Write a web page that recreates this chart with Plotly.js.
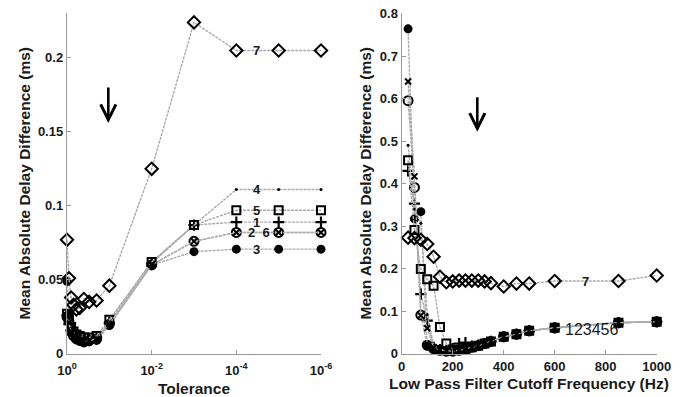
<!DOCTYPE html>
<html><head><meta charset="utf-8">
<script src="https://cdn.plot.ly/plotly-3.0.1.min.js"></script>
<style>html,body{margin:0;padding:0;background:#fff}#c{width:683px;height:397px}</style>
</head><body><div id="c"></div>
<script>
// ---------- Left panel: Tolerance ----------
const tolerance = [1, 0.9, 0.8, 0.7, 0.6, 0.5, 0.4, 0.3, 0.2, 0.1, 1e-2, 1e-3, 1e-4, 1e-5, 1e-6];
const tol1 = [0.026, 0.020, 0.016, 0.014, 0.012, 0.011, 0.010, 0.010, 0.011, 0.021, 0.061, 0.087, 0.089, 0.089, 0.089];
const tol2 = [0.025, 0.022, 0.015, 0.012, 0.010, 0.009, 0.008, 0.009, 0.010, 0.020, 0.060, 0.076, 0.082, 0.082, 0.082];
const tol3 = [0.049, 0.027, 0.018, 0.014, 0.011, 0.009, 0.008, 0.008, 0.009, 0.019, 0.060, 0.069, 0.0707, 0.0707, 0.0707];
const tol4 = [0.024, 0.019, 0.015, 0.013, 0.011, 0.010, 0.009, 0.009, 0.010, 0.022, 0.062, 0.087, 0.111, 0.111, 0.111];
const tol5 = [0.027, 0.024, 0.018, 0.015, 0.013, 0.012, 0.011, 0.011, 0.012, 0.023, 0.062, 0.087, 0.097, 0.097, 0.097];
const tol6 = [0.025, 0.021, 0.015, 0.012, 0.010, 0.009, 0.008, 0.009, 0.010, 0.020, 0.060, 0.076, 0.082, 0.082, 0.082];
const tol7 = [0.077, 0.051, 0.038, 0.033, 0.030, 0.031, 0.037, 0.035, 0.036, 0.046, 0.125, 0.224, 0.205, 0.205, 0.205];
const tolTickVals = [1, 1e-2, 1e-4, 1e-6];
const tolTickText = ['10<sup>0</sup>', '10<sup>-2</sup>', '10<sup>-4</sup>', '10<sup>-6</sup>'];

// ---------- Right panel: Cutoff frequency ----------
const freq = [25, 50, 75, 100, 125, 150, 175, 200, 225, 250, 275, 300, 325, 350, 400, 450, 500, 600, 850, 1000];
const frq1 = [0.430, 0.353, 0.140, 0.078, 0.015, 0.010, 0.008, 0.012, 0.024, 0.026, 0.018, 0.020, 0.024, 0.029, 0.040, 0.046, 0.054, 0.061, 0.073, 0.075];
const frq2 = [0.595, 0.391, 0.091, 0.020, 0.012, 0.008, 0.006, 0.006, 0.008, 0.011, 0.015, 0.019, 0.024, 0.029, 0.040, 0.046, 0.054, 0.061, 0.073, 0.075];
const frq3 = [0.764, 0.317, 0.334, 0.018, 0.010, 0.007, 0.006, 0.006, 0.008, 0.011, 0.015, 0.019, 0.024, 0.029, 0.040, 0.046, 0.054, 0.061, 0.073, 0.075];
const frq4 = [0.490, 0.340, 0.307, 0.092, 0.020, 0.010, 0.007, 0.006, 0.008, 0.011, 0.015, 0.019, 0.024, 0.029, 0.040, 0.046, 0.054, 0.061, 0.073, 0.075];
const frq5 = [0.455, 0.291, 0.199, 0.175, 0.160, 0.063, 0.024, 0.010, 0.009, 0.011, 0.015, 0.019, 0.024, 0.029, 0.040, 0.046, 0.054, 0.061, 0.073, 0.075];
const frq6 = [0.640, 0.417, 0.090, 0.060, 0.014, 0.009, 0.007, 0.006, 0.008, 0.011, 0.015, 0.019, 0.024, 0.029, 0.040, 0.046, 0.054, 0.061, 0.073, 0.075];
const frq7 = [0.273, 0.272, 0.268, 0.258, 0.228, 0.181, 0.168, 0.170, 0.172, 0.172, 0.172, 0.172, 0.170, 0.166, 0.158, 0.165, 0.165, 0.171, 0.171, 0.184];

const seriesNames = ['1', '2', '3', '4', '5', '6', '7'];
const yTitle = 'Mean Absolute Delay Difference (ms)';
const xTitleLeft = 'Tolerance';
const xTitleRight = 'Low Pass Filter Cutoff Frequency (Hz)';

// ---------- styles ----------
const lineStyle = {color: '#ababab', width: 1.4, dash: '3px,1px'};
const markerStyles = [
  {symbol: 'cross-thin-open', size: 8, color: '#000', line: {color: '#000', width: 2.2}},
  {symbol: 'circle-open', size: 9, color: '#000', line: {color: '#000', width: 2}},
  {symbol: 'circle', size: 9, color: '#000', line: {color: '#000', width: 0}},
  {symbol: 'circle', size: 3, color: '#000', line: {color: '#000', width: 0}},
  {symbol: 'square-open', size: 8, color: '#000', line: {color: '#000', width: 2}},
  {symbol: 'x-thin-open', size: 6, color: '#000', line: {color: '#000', width: 2}},
  {symbol: 'diamond-open', size: 9.5, color: '#000', line: {color: '#000', width: 2}}
];

const leftSeries = [tol1, tol2, tol3, tol4, tol5, tol6, tol7];
const rightSeries = [frq1, frq2, frq3, frq4, frq5, frq6, frq7];

const traces = [];
leftSeries.forEach((ys, i) => traces.push({
  type: 'scatter', mode: 'lines+markers', x: tolerance, y: ys, name: seriesNames[i],
  xaxis: 'x', yaxis: 'y', line: lineStyle, marker: markerStyles[i], cliponaxis: false, showlegend: false
}));
rightSeries.forEach((ys, i) => traces.push({
  type: 'scatter', mode: 'lines+markers', x: freq, y: ys, name: seriesNames[i],
  xaxis: 'x2', yaxis: 'y2', line: lineStyle, marker: markerStyles[i], cliponaxis: false, showlegend: false
}));

const fam = 'Liberation Sans, Arial, sans-serif';
const tickFont = {family: fam, size: 13, color: '#1a1a1a', weight: 'bold'};
const titleFont = {family: fam, size: 15.5, color: '#1a1a1a', weight: 'bold'};
const labelFont = {family: fam, size: 13, color: '#1a1a1a', weight: 'bold'};

const axisCommon = {
  showline: true, linecolor: '#9a9a9a', linewidth: 1.2, mirror: false,
  showgrid: false, zeroline: false, ticks: 'inside', ticklen: 4, tickcolor: '#9a9a9a',
  tickfont: tickFont
};

const W = 683, H = 397;
const px = v => v / W, py = v => (H - v) / H;

const labelX = -4.48; // log10 position between 1e-4 and 1e-5
const annotations = [
  // axis titles
  {xref: 'paper', yref: 'paper', x: px(24), y: py(183.5), text: yTitle, textangle: -90, showarrow: false, font: titleFont, xanchor: 'center', yanchor: 'middle'},
  {xref: 'paper', yref: 'paper', x: px(365), y: py(183.5), text: yTitle, textangle: -90, showarrow: false, font: titleFont, xanchor: 'center', yanchor: 'middle'},
  {xref: 'paper', yref: 'paper', x: px(194), y: py(388), text: xTitleLeft, showarrow: false, font: titleFont, xanchor: 'center', yanchor: 'middle'},
  {xref: 'paper', yref: 'paper', x: px(529), y: py(383), text: xTitleRight, showarrow: false, font: titleFont, xanchor: 'center', yanchor: 'middle'},
  // series labels
  {xref: 'x', yref: 'y', x: labelX, y: tol7[12], text: '7', showarrow: false, font: labelFont},
  {xref: 'x', yref: 'y', x: labelX, y: tol4[12], text: '4', showarrow: false, font: labelFont},
  {xref: 'x', yref: 'y', x: labelX, y: tol5[12], text: '5', showarrow: false, font: labelFont},
  {xref: 'x', yref: 'y', x: labelX, y: tol1[12], text: '1', showarrow: false, font: labelFont},
  {xref: 'x', yref: 'y', x: labelX - 0.05, y: tol2[12], text: '2  6', showarrow: false, font: labelFont},
  {xref: 'x', yref: 'y', x: labelX, y: tol3[12], text: '3', showarrow: false, font: labelFont},
  {xref: 'x2', yref: 'y2', x: 720, y: 0.171, text: '7', showarrow: false, font: labelFont},
  {xref: 'x2', yref: 'y2', x: 745, y: 0.058, text: '123456', showarrow: false, font: {family: fam, size: 16, color: '#1a1a1a'}},
  // arrows
  {xref: 'paper', yref: 'paper', x: px(108.3), y: py(123), ax: 0, ay: -37, text: '',
   showarrow: true, arrowhead: 5, arrowwidth: 2.6, arrowsize: 1.15, arrowcolor: '#000'},
  {xref: 'paper', yref: 'paper', x: px(477.3), y: py(131.7), ax: 0, ay: -36, text: '',
   showarrow: true, arrowhead: 5, arrowwidth: 2.6, arrowsize: 1.15, arrowcolor: '#000'}
];

const yDom = [0.109, 0.966];
const layout = {
  width: W, height: H, margin: {l: 0, r: 0, t: 0, b: 0},
  paper_bgcolor: '#fff', plot_bgcolor: '#fff', showlegend: false,
  xaxis: Object.assign({}, axisCommon, {
    type: 'log', domain: [px(67), px(321)], range: [0, -6], anchor: 'y',
    tickvals: tolTickVals, ticktext: tolTickText, ticklabelstandoff: 4
  }),
  yaxis: Object.assign({}, axisCommon, {
    domain: yDom, range: [0, 0.23], anchor: 'x', tickvals: [0, 0.05, 0.1, 0.15, 0.2], ticktext: ['0', '0.05', '0.1', '0.15', '0.2']
  }),
  xaxis2: Object.assign({}, axisCommon, {
    domain: [px(401.7), px(656.7)], range: [0, 1000], anchor: 'y2', tickvals: [0, 200, 400, 600, 800, 1000]
  }),
  yaxis2: Object.assign({}, axisCommon, {
    domain: yDom, range: [0, 0.8], anchor: 'x2', tickvals: [0, 0.1, 0.2, 0.3, 0.4, 0.5, 0.6, 0.7, 0.8],
    ticktext: ['0', '0.1', '0.2', '0.3', '0.4', '0.5', '0.6', '0.7', '0.8']
  }),
  annotations: annotations
};

Plotly.newPlot('c', traces, layout, {staticPlot: true, displayModeBar: false});
</script>
</body></html>
